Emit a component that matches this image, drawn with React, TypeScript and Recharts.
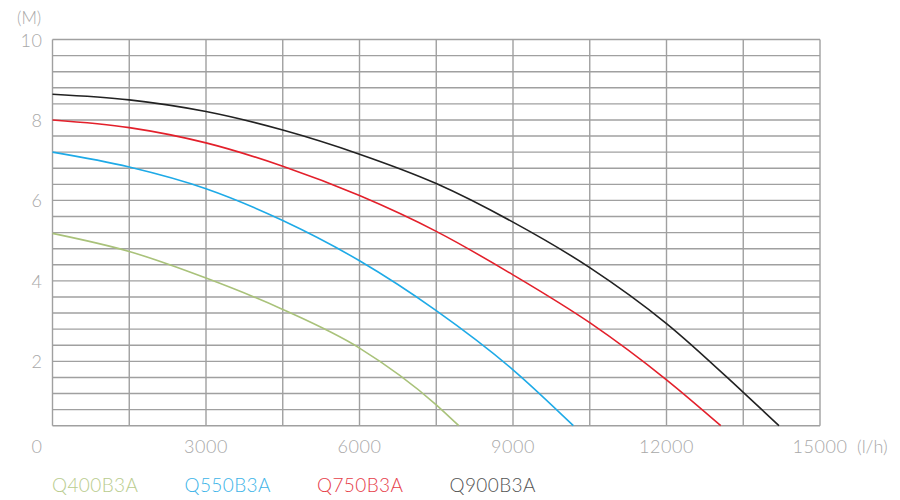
import React from 'react';
import { LineChart, Line, XAxis, YAxis, CartesianGrid } from 'recharts';

const flowQ400 = [0, 1500, 3000, 4500, 6000, 7500, 7940];
const headQ400 = [5.18, 4.73, 4.07, 3.29, 2.33, 0.92, 0.4];
const flowQ550 = [0, 1500, 3000, 4500, 6000, 7500, 9000, 10180];
const headQ550 = [7.2, 6.83, 6.29, 5.5, 4.5, 3.26, 1.79, 0.4];
const flowQ750 = [0, 1500, 3000, 4500, 6000, 7500, 9000, 10500, 12000, 13060];
const headQ750 = [8.0, 7.81, 7.43, 6.85, 6.12, 5.23, 4.15, 2.96, 1.54, 0.4];
const flowQ900 = [0, 1500, 3000, 4500, 6000, 7500, 9000, 10500, 12000, 13500, 14200];
const headQ900 = [8.64, 8.5, 8.21, 7.75, 7.15, 6.42, 5.46, 4.33, 2.94, 1.23, 0.4];

const seriesNames = ['Q400B3A', 'Q550B3A', 'Q750B3A', 'Q900B3A'];
const lineColors = ['#a9c27a', '#1eaae7', '#e3202b', '#222222'];
const legendColors = ['#b9cc8e', '#3db4e8', '#e6404a', '#555555'];

const xTicks = [0, 1500, 3000, 4500, 6000, 7500, 9000, 10500, 12000, 13500, 15000];
const xLabelTicks = [0, 3000, 6000, 9000, 12000, 15000];
const yTicks = [0.4, 0.8, 1.2, 1.6, 2, 2.4, 2.8, 3.2, 3.6, 4, 4.4, 4.8, 5.2, 5.6, 6, 6.4, 6.8, 7.2, 7.6, 8, 8.4, 8.8, 9.2, 9.6, 10];
const yLabelTicks = [2, 4, 6, 8, 10];

const build = (xs: number[], ys: number[]) => xs.map((x, i) => ({ flow: x, head: ys[i] }));
const seriesData = [
  build(flowQ400, headQ400),
  build(flowQ550, headQ550),
  build(flowQ750, headQ750),
  build(flowQ900, headQ900),
];

const FONT = 'Lato, "Noto Sans", sans-serif';
const TEXT_GRAY = '#a8a8a8';

const XTick = (props: any) => {
  const { x, y, payload } = props;
  if (!xLabelTicks.includes(payload.value)) return null;
  const dx = payload.value === 0 ? -15.5 : 0;
  return (
    <text x={x + dx} y={y + 20} textAnchor="middle" dominantBaseline="central"
      fontFamily={FONT} fontWeight={300} fontSize={18} letterSpacing={0.6} fill={TEXT_GRAY}>
      {payload.value}
    </text>
  );
};

const YTick = (props: any) => {
  const { x, y, payload } = props;
  if (!yLabelTicks.includes(payload.value)) return null;
  return (
    <text x={x - 10} y={y} textAnchor="end" dominantBaseline="central"
      fontFamily={FONT} fontWeight={300} fontSize={18} letterSpacing={0.6} fill={TEXT_GRAY}>
      {payload.value}
    </text>
  );
};

export default function App() {
  return (
    <div style={{ position: 'relative', width: 900, height: 500, background: '#fff' }}>
      <LineChart width={900} height={500}
        margin={{ top: 31.5, right: 88, bottom: 52.3, left: 4.5 }}>
        <CartesianGrid stroke="#a0a0a0" strokeWidth={1.4} horizontalValues={yTicks} verticalValues={xTicks} />
        <XAxis dataKey="flow" type="number" domain={[0, 15000]} ticks={xTicks} interval={0}
          axisLine={false} tickLine={false} tickSize={0} tickMargin={0} height={30} tick={<XTick />}
          allowDuplicatedCategory={false} />
        <YAxis type="number" domain={[0.4, 10]} ticks={yTicks} interval={0}
          axisLine={false} tickLine={false} tickSize={0} tickMargin={0} width={40} tick={<YTick />} />
        {seriesData.map((d, i) => (
          <Line key={seriesNames[i]} data={d} dataKey="head" name={seriesNames[i]} type="monotone"
            stroke={lineColors[i]} strokeWidth={1.6} dot={false} isAnimationActive={false} />
        ))}
      </LineChart>
      <div style={{ position: 'absolute', left: 9, top: -1, fontFamily: FONT, fontWeight: 300, fontSize: 17, color: TEXT_GRAY }}>(M)</div>
      <div style={{ position: 'absolute', left: 849, top: 427, fontFamily: FONT, fontWeight: 300, fontSize: 18, color: TEXT_GRAY }}>(l/h)</div>
      <div style={{ position: 'absolute', left: 44, top: 465, display: 'flex', fontFamily: FONT, fontWeight: 300, fontSize: 19, letterSpacing: 0.4 }}>
        {seriesNames.map((n, i) => (
          <div key={n} style={{ width: 132.5, color: legendColors[i] }}>{n}</div>
        ))}
      </div>
    </div>
  );
}
